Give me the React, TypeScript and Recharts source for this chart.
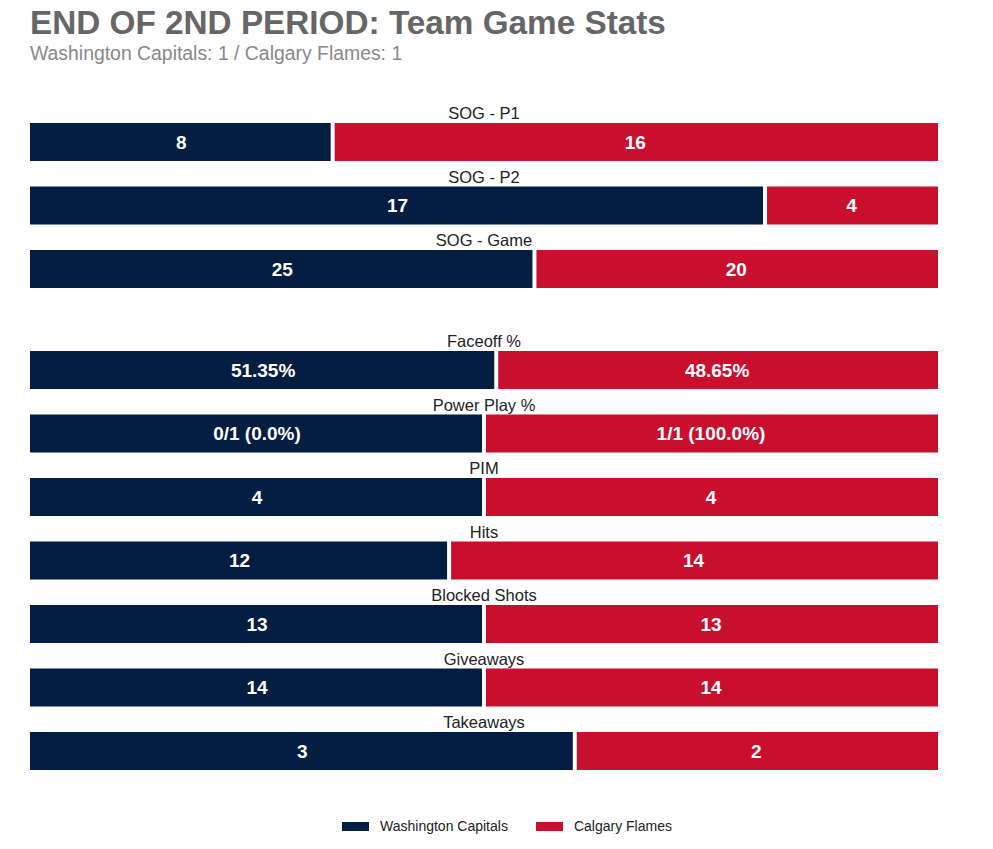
import React from "react";
import { BarChart, Bar, XAxis, YAxis, LabelList } from "recharts";

// team colours
const CAPS_COLOR = "#041E42";
const FLAMES_COLOR = "#C8102E";

// shots on goal block
const sogStats = ["SOG - P1", "SOG - P2", "SOG - Game"];
const sogCaps = [8, 17, 25];
const sogFlames = [16, 4, 20];

// other team stats
const otherStats = [
  "Faceoff %",
  "Power Play %",
  "PIM",
  "Hits",
  "Blocked Shots",
  "Giveaways",
  "Takeaways",
];
const otherCaps = [51.35, 1, 4, 12, 13, 14, 3];
const otherFlames = [48.65, 1, 4, 14, 13, 14, 2];
const otherCapsLabels = ["51.35%", "0/1 (0.0%)", "4", "12", "13", "14", "3"];
const otherFlamesLabels = ["48.65%", "1/1 (100.0%)", "4", "14", "13", "14", "2"];

const FONT = "'Liberation Sans', Arial, sans-serif";
const WIDTH = 993;
const PLOT_LEFT = 30;
const PLOT_RIGHT = 55;
const PLOT_CENTER = PLOT_LEFT + (WIDTH - PLOT_LEFT - PLOT_RIGHT) / 2;

const sogData = sogStats.map((stat, i) => ({
  stat,
  caps: sogCaps[i],
  flames: sogFlames[i],
  capsLabel: String(sogCaps[i]),
  flamesLabel: String(sogFlames[i]),
}));

const otherData = otherStats.map((stat, i) => ({
  stat,
  caps: otherCaps[i],
  flames: otherFlames[i],
  capsLabel: otherCapsLabels[i],
  flamesLabel: otherFlamesLabels[i],
}));

// leave a small white gap where the two segments meet
const CapsShape = (props: any) => {
  const { x, y, width, height, fill } = props;
  return <rect x={x} y={y} width={Math.max(width - 2, 0)} height={height} fill={fill} />;
};
const FlamesShape = (props: any) => {
  const { x, y, width, height, fill } = props;
  return <rect x={x + 2} y={y} width={Math.max(width - 2, 0)} height={height} fill={fill} />;
};

const StatTitle = (props: any) => {
  const vb = props.viewBox || props;
  return (
    <text
      x={PLOT_CENTER}
      y={vb.y - 4}
      textAnchor="middle"
      fill="#222"
      fontSize={16.5}
      fontFamily={FONT}
    >
      {props.value}
    </text>
  );
};

function StatBars({ data, height, top, marginTop }: any) {
  return (
    <div style={{ position: "absolute", left: 0, top }}>
      <BarChart
        width={WIDTH}
        height={height}
        data={data}
        layout="vertical"
        stackOffset="expand"
        margin={{ top: marginTop, right: PLOT_RIGHT, bottom: 0, left: PLOT_LEFT }}
      >
        <XAxis type="number" hide domain={[0, 1]} />
        <YAxis type="category" dataKey="stat" hide />
        <Bar
          dataKey="caps"
          stackId="a"
          fill={CAPS_COLOR}
          barSize={38}
          shape={CapsShape}
          isAnimationActive={false}
        >
          <LabelList dataKey="stat" content={StatTitle} />
          <LabelList
            dataKey="capsLabel"
            position="center"
            fill="#fff"
            fontSize={19}
            fontWeight="bold"
            fontFamily={FONT}
          />
        </Bar>
        <Bar
          dataKey="flames"
          stackId="a"
          fill={FLAMES_COLOR}
          barSize={38}
          shape={FlamesShape}
          isAnimationActive={false}
        >
          <LabelList
            dataKey="flamesLabel"
            position="center"
            fill="#fff"
            fontSize={19}
            fontWeight="bold"
            fontFamily={FONT}
          />
        </Bar>
      </BarChart>
    </div>
  );
}

export default function App() {
  return (
    <div
      style={{
        position: "fixed",
        left: 0,
        top: 0,
        width: WIDTH,
        height: 849,
        background: "#fff",
        fontFamily: FONT,
      }}
    >
      <div
        style={{
          position: "absolute",
          left: 30,
          top: 6,
          fontSize: 33.3,
          lineHeight: 1,
          fontWeight: "bold",
          color: "#666",
          whiteSpace: "nowrap",
        }}
      >
        END OF 2ND PERIOD: Team Game Stats
      </div>
      <div
        style={{
          position: "absolute",
          left: 30,
          top: 44,
          fontSize: 19.4,
          lineHeight: 1,
          color: "#888",
          whiteSpace: "nowrap",
        }}
      >
        Washington Capitals: 1 / Calgary Flames: 1
      </div>

      {/* plot band: 110.25 .. 300.75 */}
      <StatBars data={sogData} top={80.25} height={220.5} marginTop={30} />
      {/* plot band: 338.25 .. 782.75 */}
      <StatBars data={otherData} top={308.25} height={474.5} marginTop={30} />

      {/* legend */}
      <div
        style={{
          position: "absolute",
          top: 817,
          left: 342,
          display: "flex",
          alignItems: "center",
          fontSize: 14,
          color: "#222",
          lineHeight: "18px",
          whiteSpace: "nowrap",
        }}
      >
        <span style={{ width: 27, height: 9, background: CAPS_COLOR, marginRight: 11 }} />
        <span style={{ marginRight: 28 }}>Washington Capitals</span>
        <span style={{ width: 27, height: 9, background: FLAMES_COLOR, marginRight: 11 }} />
        <span>Calgary Flames</span>
      </div>
    </div>
  );
}
